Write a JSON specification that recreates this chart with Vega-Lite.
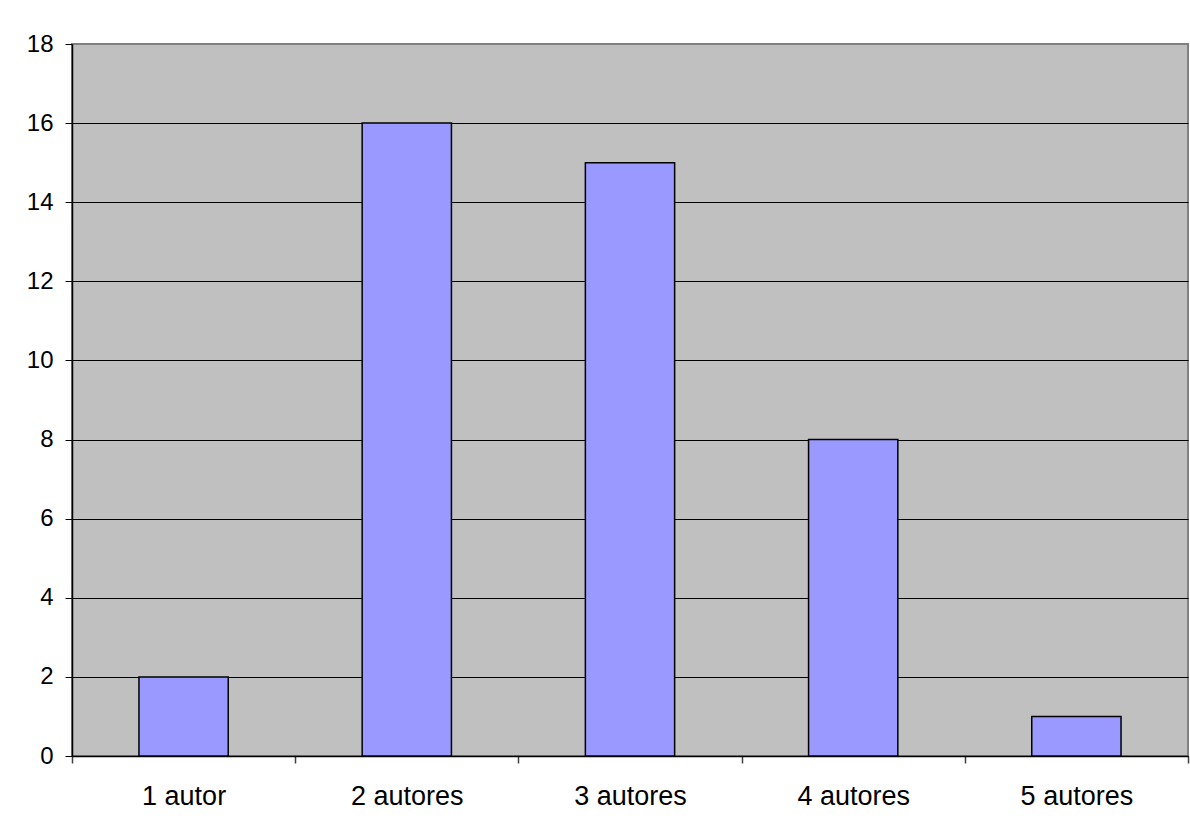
{
  "$schema": "https://vega.github.io/schema/vega-lite/v6.json",
  "autosize": {"type": "none"},
  "padding": {"left": 72, "top": 44, "right": 2, "bottom": 73},
  "width": 1116,
  "height": 712,
  "background": "white",
  "config": {
    "view": {"fill": "#C0C0C0", "stroke": "#808080", "strokeWidth": 2},
    "font": "Liberation Sans"
  },
  "data": {
    "values": [
      {"categoria": "1 autor", "valor": 2},
      {"categoria": "2 autores", "valor": 16},
      {"categoria": "3 autores", "valor": 15},
      {"categoria": "4 autores", "valor": 8},
      {"categoria": "5 autores", "valor": 1}
    ]
  },
  "mark": {"type": "bar", "fill": "#9999FF", "stroke": "black", "strokeWidth": 1.5, "width": {"band": 0.4}},
  "encoding": {
    "x": {
      "field": "categoria",
      "type": "nominal",
      "sort": null,
      "scale": {"paddingInner": 0, "paddingOuter": 0},
      "axis": {
        "title": null,
        "labelAngle": 0,
        "labelFontSize": 27,
        "labelColor": "black",
        "labelPadding": 20,
        "domainColor": "black",
        "domainWidth": 1.5,
        "tickColor": "#404040",
        "tickSize": 7,
        "tickWidth": 1.5,
        "tickBand": "extent",
        "grid": false
      }
    },
    "y": {
      "field": "valor",
      "type": "quantitative",
      "scale": {"domain": [0, 18], "nice": false},
      "axis": {
        "title": null,
        "values": [0, 2, 4, 6, 8, 10, 12, 14, 16, 18],
        "labelFontSize": 24,
        "labelColor": "black",
        "labelPadding": 12,
        "domainColor": "black",
        "domainWidth": 1.5,
        "tickColor": "black",
        "tickSize": 7,
        "tickWidth": 1,
        "grid": true,
        "gridColor": {"condition": {"test": "datum.value == 18", "value": "#808080"}, "value": "black"},
        "gridWidth": 1,
        "gridOpacity": 1
      }
    }
  }
}
